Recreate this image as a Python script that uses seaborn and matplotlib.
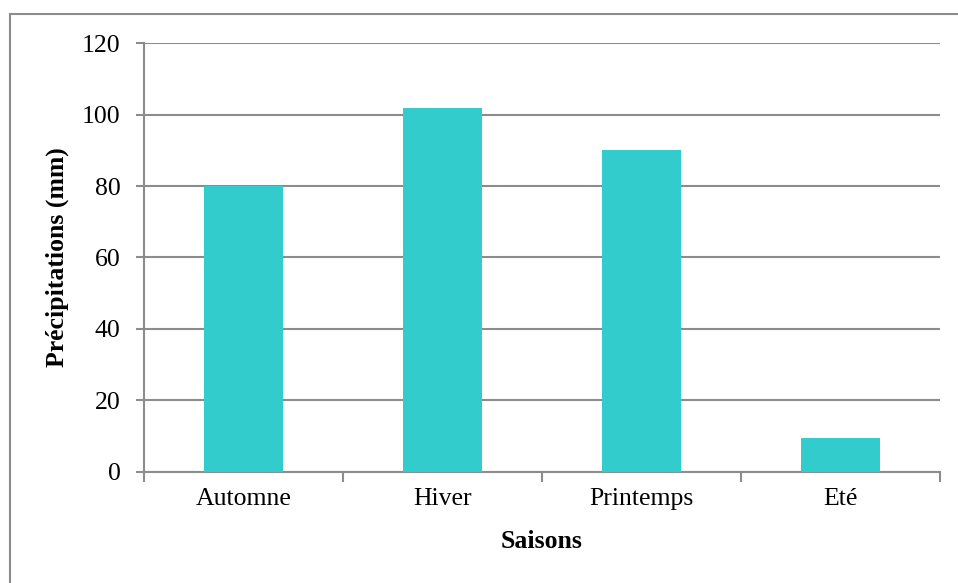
import matplotlib
matplotlib.use("Agg")
import matplotlib.pyplot as plt
from matplotlib.lines import Line2D
import pandas as pd
import seaborn as sns

# saisons et précipitations moyennes (mm)
saisons = ["Automne", "Hiver", "Printemps", "Eté"]
precip = [80.1, 101.9, 90.1, 9.4]
y_ticks = [0, 20, 40, 60, 80, 100, 120]

df = pd.DataFrame({"Saisons": saisons, "Precip": precip})

sns.set_style("white")
plt.rcParams["font.family"] = ["Liberation Serif", "DejaVu Serif"]
plt.rcParams["text.color"] = "black"
plt.rcParams["axes.labelcolor"] = "black"
plt.rcParams["xtick.color"] = "black"
plt.rcParams["ytick.color"] = "black"

GRID = "#8c8c8c"
FS = 18.5

fig = plt.figure(figsize=(9.58, 5.83), dpi=100)
ax = fig.add_axes([0.1506, 0.191, 0.981 - 0.1506, 0.9257 - 0.191])

sns.barplot(data=df, x="Saisons", y="Precip", color="#33CCCC", width=0.4,
            saturation=1, linewidth=0, ax=ax, zorder=3)

ax.set_ylim(0, 120)
ax.set_yticks(y_ticks)
ax.set_xlim(-0.5, len(saisons) - 0.5)
ax.yaxis.grid(True, color=GRID, linewidth=1.5, zorder=0)
ax.set_axisbelow(True)

for s in ["top", "right"]:
    ax.spines[s].set_visible(False)
for s in ["left", "bottom"]:
    ax.spines[s].set_color(GRID)
    ax.spines[s].set_linewidth(1.5)

ax.tick_params(axis="y", left=True, length=6, color=GRID, width=1.5,
               labelsize=FS, labelcolor="black", pad=11)
ax.tick_params(axis="x", which="major", bottom=False, length=0,
               labelsize=FS, labelcolor="black", pad=12)
ax.set_xticks([i - 0.5 for i in range(len(saisons) + 1)], minor=True)
ax.tick_params(axis="x", which="minor", bottom=True, length=7, color=GRID, width=1.5)

ax.set_xlabel("Saisons", fontsize=FS, fontweight="bold")
ax.set_ylabel("Précipitations (mm)", fontsize=FS, fontweight="bold")
ax.xaxis.label.set_va("center")
ax.yaxis.label.set_va("center")
ax.xaxis.set_label_coords(0.5, -0.162)
ax.yaxis.set_label_coords(-0.1097, 0.5)

# cadre extérieur (seuls les bords haut et gauche sont visibles)
fig.lines.append(Line2D([10 / 958, 1], [1 - 14 / 583, 1 - 14 / 583],
                        transform=fig.transFigure, color=GRID, linewidth=1.5))
fig.lines.append(Line2D([10 / 958, 10 / 958], [0, 1 - 14 / 583],
                        transform=fig.transFigure, color=GRID, linewidth=1.5))

fig.savefig("out.png", dpi=100)
